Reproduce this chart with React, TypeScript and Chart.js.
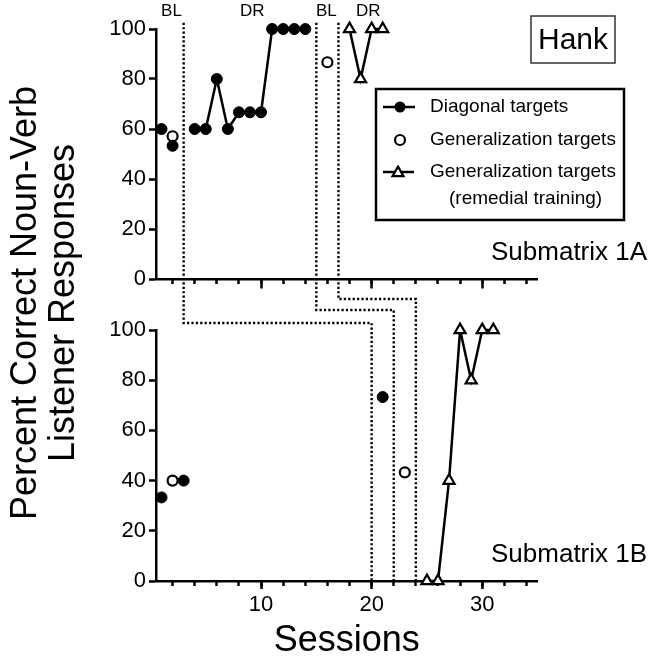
import React, { useEffect, useRef } from 'react';
import { Chart, registerables } from 'chart.js';

Chart.register(...registerables);

const FONT = '"Liberation Sans", Arial, Helvetica, sans-serif';

// ---- Submatrix 1A (top panel) ----
const topDiagBLSessions = [1, 2];
const topDiagBLValues = [60, 53.3];
const topDiagDRSessions = [4, 5, 6, 7, 8, 9, 10, 11, 12, 13, 14];
const topDiagDRValues = [60, 60, 80, 60, 66.7, 66.7, 66.7, 100, 100, 100, 100];
const topGenSessions = [2, 16];
const topGenValues = [57.1, 86.7];
const topRemSessions = [18, 19, 20, 21];
const topRemValues = [100, 80, 100, 100];

// ---- Submatrix 1B (bottom panel) ----
const botDiagSessions = [1, 3, 21];
const botDiagValues = [33.3, 40, 73.3];
const botGenSessions = [2, 23];
const botGenValues = [40, 43.3];
const botRemSessions = [25, 26, 27, 28, 29, 30, 31];
const botRemValues = [0, 0, 40, 100, 80, 100, 100];

// ---- axes ----
const yTickValues = [0, 20, 40, 60, 80, 100];
const xMajorTicks = [10, 20, 30];
const xMinorTicks = [2, 4, 6, 8, 10, 12, 14, 16, 18, 20, 22, 24, 26, 28, 30, 32, 34];
const xMin = 0.5;
const xMax = 35;

// ---- phase annotations ----
const phaseLabels = ['BL', 'DR', 'BL', 'DR'];
const phaseLabelSessions = [1.9, 9.2, 15.9, 19.7];
const topPhaseLines = [3, 15, 17];
const bottomPhaseLines = [20, 22, 24];
const stepLevels = [-17.6, -12.4, -8];

const legendLabels = ['Diagonal targets', 'Generalization targets', 'Generalization targets', '(remedial training)'];
const panelLabels = ['Submatrix 1A', 'Submatrix 1B'];
const participant = 'Hank';
const yTitleLines = ['Percent Correct Noun-Verb', 'Listener Responses'];
const xTitle = 'Sessions';

const pts = (xs: number[], ys: number[]) => xs.map((x, i) => ({ x, y: ys[i] }));

const filledDot = { pointStyle: 'circle', pointRadius: 5.5, pointBackgroundColor: '#000', pointBorderColor: '#000', pointBorderWidth: 1 };
const openDot = { pointStyle: 'circle', pointRadius: 5, pointBackgroundColor: '#fff', pointBorderColor: '#000', pointBorderWidth: 2.2 };
const openTri = { pointStyle: 'triangle', pointRadius: 6.4, pointBackgroundColor: '#fff', pointBorderColor: '#000', pointBorderWidth: 2.2 };

function drawTriangle(ctx: CanvasRenderingContext2D, x: number, y: number, r: number) {
  ctx.beginPath();
  ctx.moveTo(x, y - r);
  ctx.lineTo(x + r * Math.sin(Math.PI / 3), y + r / 2);
  ctx.lineTo(x - r * Math.sin(Math.PI / 3), y + r / 2);
  ctx.closePath();
  ctx.fillStyle = '#fff';
  ctx.fill();
  ctx.stroke();
}

const annotations = {
  id: 'annotations',
  beforeDatasetsDraw(chart: any) {
    const ctx = chart.ctx as CanvasRenderingContext2D;
    const x = chart.scales.x;
    const yT = chart.scales.yTop;
    const yB = chart.scales.yBottom;
    ctx.save();
    ctx.strokeStyle = '#000';
    ctx.lineWidth = 2.4;
    ctx.setLineDash([2.2, 2.2]);
    topPhaseLines.forEach((s, i) => {
      const px1 = x.getPixelForValue(s);
      const px2 = x.getPixelForValue(bottomPhaseLines[i]);
      const py0 = yT.getPixelForValue(102.5);
      const pyStep = yT.getPixelForValue(stepLevels[i]);
      const pyEnd = yB.getPixelForValue(0);
      ctx.beginPath();
      ctx.moveTo(px1, py0);
      ctx.lineTo(px1, pyStep);
      ctx.lineTo(px2, pyStep);
      ctx.lineTo(px2, pyEnd);
      ctx.stroke();
    });
    ctx.restore();
  },
  afterDraw(chart: any) {
    const ctx = chart.ctx as CanvasRenderingContext2D;
    const x = chart.scales.x;
    ctx.save();
    ctx.fillStyle = '#000';
    // phase labels
    ctx.font = `17px ${FONT}`;
    ctx.textAlign = 'center';
    ctx.textBaseline = 'middle';
    phaseLabels.forEach((t, i) => ctx.fillText(t, x.getPixelForValue(phaseLabelSessions[i]), 11));

    // y title
    ctx.save();
    ctx.font = `36px ${FONT}`;
    ctx.textAlign = 'center';
    ctx.textBaseline = 'middle';
    ctx.translate(0, 303);
    ctx.rotate(-Math.PI / 2);
    ctx.fillText(yTitleLines[0], 0, 26);
    ctx.fillText(yTitleLines[1], 0, 64);
    ctx.restore();

    // panel labels
    ctx.font = `26px ${FONT}`;
    ctx.textAlign = 'left';
    ctx.textBaseline = 'alphabetic';
    ctx.fillText(panelLabels[0], 491, 260);
    ctx.fillText(panelLabels[1], 491, 562);

    // participant box
    ctx.strokeStyle = '#333';
    ctx.lineWidth = 1.5;
    ctx.strokeRect(531, 16, 84, 47);
    ctx.font = `30px ${FONT}`;
    ctx.textAlign = 'center';
    ctx.textBaseline = 'middle';
    ctx.fillText(participant, 573, 41);

    // legend
    ctx.strokeStyle = '#000';
    ctx.lineWidth = 2.5;
    ctx.strokeRect(376, 89, 248, 131);
    ctx.beginPath();
    ctx.moveTo(383, 107);
    ctx.lineTo(415, 107);
    ctx.stroke();
    ctx.beginPath();
    ctx.arc(400, 107, 5.5, 0, Math.PI * 2);
    ctx.fill();
    ctx.lineWidth = 2.2;
    ctx.beginPath();
    ctx.arc(400, 140, 5, 0, Math.PI * 2);
    ctx.fillStyle = '#fff';
    ctx.fill();
    ctx.stroke();
    ctx.lineWidth = 2.5;
    ctx.beginPath();
    ctx.moveTo(383, 172);
    ctx.lineTo(414, 172);
    ctx.stroke();
    ctx.lineWidth = 2.2;
    drawTriangle(ctx, 398, 173, 6.4);
    ctx.fillStyle = '#000';
    ctx.font = `19px ${FONT}`;
    ctx.textAlign = 'left';
    ctx.textBaseline = 'middle';
    ctx.fillText(legendLabels[0], 430, 107);
    ctx.fillText(legendLabels[1], 430, 140);
    ctx.fillText(legendLabels[2], 430, 172);
    ctx.fillText(legendLabels[3], 449, 199);
    ctx.restore();
  },
};

const yAxis = (weight: number, stackWeight: number) => ({
  type: 'linear',
  position: 'left',
  stack: 'panels',
  stackWeight,
  weight,
  min: 0,
  max: 100,
  afterBuildTicks: (s: any) => { s.ticks = yTickValues.map((v) => ({ value: v })); },
  afterFit: (s: any) => { s.width = 156; },
  border: { display: true, color: '#000', width: 2.5 },
  grid: { display: true, drawOnChartArea: false, drawTicks: true, tickLength: 7, tickWidth: 2.5, tickColor: '#000' },
  ticks: { color: '#000', padding: 3, autoSkip: false, font: { family: FONT, size: 22 } },
});

const xAxisCommon = {
  type: 'linear',
  min: xMin,
  max: xMax,
};

export default function App() {
  const ref = useRef<HTMLCanvasElement | null>(null);
  useEffect(() => {
    document.body.style.margin = '0';
    const canvas = ref.current;
    if (!canvas) return;
    const chart = new Chart(canvas, {
      type: 'scatter',
      data: {
        datasets: [
          { label: 'top diag BL', data: pts(topDiagBLSessions, topDiagBLValues), yAxisID: 'yTop', showLine: false, ...filledDot },
          { label: 'top diag DR', data: pts(topDiagDRSessions, topDiagDRValues), yAxisID: 'yTop', showLine: true, borderColor: '#000', borderWidth: 2.5, ...filledDot },
          { label: 'top gen', data: pts(topGenSessions, topGenValues), yAxisID: 'yTop', showLine: false, ...openDot },
          { label: 'top remedial', data: pts(topRemSessions, topRemValues), yAxisID: 'yTop', showLine: true, borderColor: '#000', borderWidth: 2.5, ...openTri },
          { label: 'bottom diag', data: pts(botDiagSessions, botDiagValues), yAxisID: 'yBottom', showLine: false, ...filledDot },
          { label: 'bottom gen', data: pts(botGenSessions, botGenValues), yAxisID: 'yBottom', showLine: false, ...openDot },
          { label: 'bottom remedial', data: pts(botRemSessions, botRemValues), yAxisID: 'yBottom', showLine: true, borderColor: '#000', borderWidth: 2.5, ...openTri },
        ].map((d: any) => ({ ...d, xAxisID: 'x', clip: false })),
      },
      options: {
        animation: false,
        responsive: false,
        devicePixelRatio: 1,
        layout: { padding: { left: 0, top: 29, right: 119.5, bottom: 0 } },
        plugins: { legend: { display: false }, tooltip: { enabled: false } },
        scales: {
          x: {
            ...xAxisCommon,
            position: 'bottom',
            afterBuildTicks: (s: any) => { s.ticks = xMajorTicks.map((v) => ({ value: v })); },
            afterFit: (s: any) => { s.height = 84; },
            border: { display: true, color: '#000', width: 2.5 },
            grid: { display: true, drawOnChartArea: false, drawTicks: true, tickLength: 8, tickWidth: 2.5, tickColor: '#000' },
            ticks: { color: '#000', padding: 3, maxRotation: 0, autoSkip: false, font: { family: FONT, size: 22 } },
            title: { display: true, text: xTitle, color: '#000', font: { family: FONT, size: 36 }, padding: { top: 0, bottom: 2 } },
          },
          xMinorB: {
            ...xAxisCommon,
            position: { yBottom: 0 },
            afterBuildTicks: (s: any) => { s.ticks = xMinorTicks.map((v) => ({ value: v })); },
            border: { display: false },
            grid: { display: true, drawOnChartArea: false, drawTicks: true, tickLength: 5, tickWidth: 2.5, tickColor: '#000' },
            ticks: { display: false, autoSkip: false },
          },
          xTop: {
            ...xAxisCommon,
            position: { yTop: 0 },
            afterBuildTicks: (s: any) => { s.ticks = xMajorTicks.map((v) => ({ value: v })); },
            border: { display: true, color: '#000', width: 2.5 },
            grid: { display: true, drawOnChartArea: false, drawTicks: true, tickLength: 8, tickWidth: 2.5, tickColor: '#000' },
            ticks: { display: false, autoSkip: false },
          },
          xMinorT: {
            ...xAxisCommon,
            position: { yTop: 0 },
            afterBuildTicks: (s: any) => { s.ticks = xMinorTicks.map((v) => ({ value: v })); },
            border: { display: false },
            grid: { display: true, drawOnChartArea: false, drawTicks: true, tickLength: 5, tickWidth: 2.5, tickColor: '#000' },
            ticks: { display: false, autoSkip: false },
          },
          yTop: yAxis(3, 250),
          yGap: {
            type: 'linear',
            position: 'left',
            stack: 'panels',
            stackWeight: 51,
            weight: 2,
            min: 0,
            max: 1,
            afterFit: (s: any) => { s.width = 156; },
            border: { display: false },
            grid: { display: false },
            ticks: { display: false },
          },
          yBottom: yAxis(1, 251),
        },
      },
      plugins: [annotations],
    } as any);
    return () => chart.destroy();
  }, []);
  return (
    <div style={{ position: 'fixed', left: 0, top: 0, width: 657, height: 665, background: '#fff' }}>
      <canvas ref={ref} width={657} height={665} />
    </div>
  );
}
